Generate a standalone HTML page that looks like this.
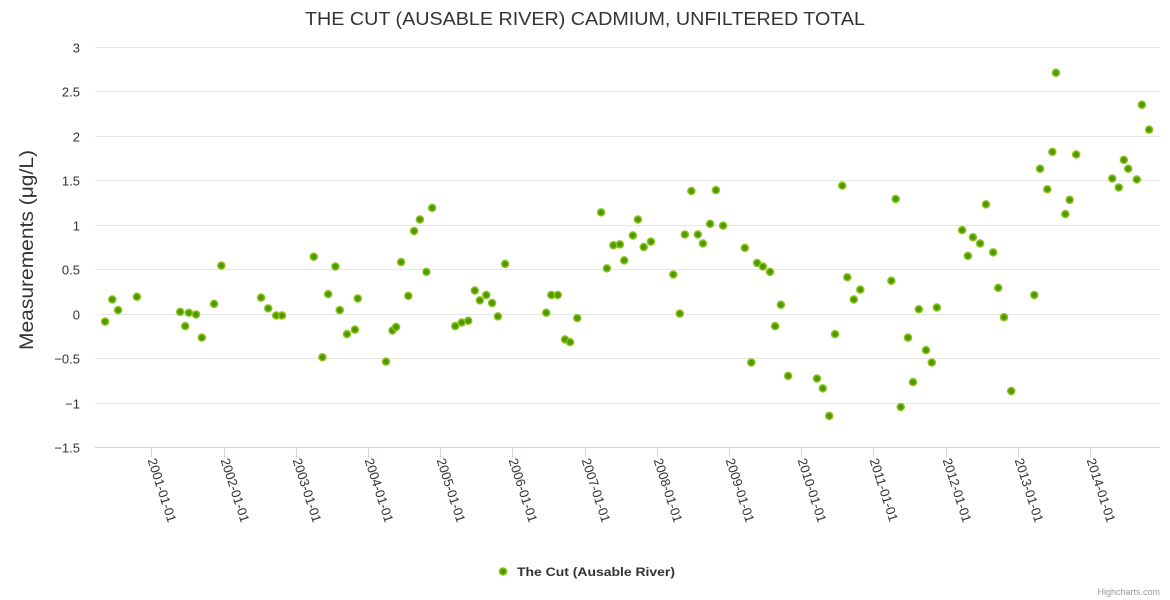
<!DOCTYPE html>
<html><head><meta charset="utf-8"><style>
body{margin:0;background:#fff;font-family:"Liberation Sans",sans-serif;}
svg{display:block}
</style></head><body>
<svg id="chart" width="1170" height="600" xmlns="http://www.w3.org/2000/svg">
<rect width="1170" height="600" fill="#fff"/>
<text x="585" y="25" text-anchor="middle" font-size="18" fill="#333" textLength="560" lengthAdjust="spacingAndGlyphs">THE CUT (AUSABLE RIVER) CADMIUM, UNFILTERED TOTAL</text>
<text transform="translate(33,250) rotate(-90)" text-anchor="middle" font-size="19" fill="#333" textLength="200" lengthAdjust="spacingAndGlyphs">Measurements (μg/L)</text>
<g id="grid"></g><g id="xaxis"></g><g id="points"></g>
<g>
<circle cx="503" cy="571.5" r="3.5" fill="#4d9900" stroke="#8cc21a" stroke-width="1.5"/>
<text x="517" y="576" font-size="12" font-weight="bold" fill="#333" textLength="158" lengthAdjust="spacingAndGlyphs">The Cut (Ausable River)</text>
</g>
<text x="1160" y="595" text-anchor="end" font-size="9" fill="#999">Highcharts.com</text>
</svg>
<script>
const yTicks=[-1.5,-1,-0.5,0,0.5,1,1.5,2,2.5,3];
const yTickLabels=["−1.5","−1","−0.5","0","0.5","1","1.5","2","2.5","3"];
const xTickYears=[2001,2002,2003,2004,2005,2006,2007,2008,2009,2010,2011,2012,2013,2014];
const xTickLabels=["2001-01-01","2002-01-01","2003-01-01","2004-01-01","2005-01-01","2006-01-01","2007-01-01","2008-01-01","2009-01-01","2010-01-01","2011-01-01","2012-01-01","2013-01-01","2014-01-01"];
const dates=[2000.36,2000.46,2000.54,2000.80,2001.40,2001.47,2001.52,2001.62,2001.70,2001.87,2001.97,2002.52,2002.62,2002.73,2002.81,2003.25,2003.37,2003.45,2003.55,2003.61,2003.71,2003.82,2003.86,2004.25,2004.34,2004.39,2004.46,2004.56,2004.64,2004.72,2004.81,2004.89,2005.21,2005.30,2005.39,2005.48,2005.55,2005.64,2005.72,2005.80,2005.90,2006.47,2006.54,2006.63,2006.73,2006.80,2006.90,2007.23,2007.31,2007.40,2007.49,2007.55,2007.67,2007.74,2007.82,2007.92,2008.23,2008.32,2008.39,2008.48,2008.57,2008.64,2008.74,2008.82,2008.92,2009.22,2009.31,2009.39,2009.47,2009.57,2009.64,2009.72,2009.82,2010.22,2010.30,2010.39,2010.47,2010.57,2010.64,2010.73,2010.82,2011.25,2011.31,2011.38,2011.48,2011.55,2011.63,2011.73,2011.81,2011.88,2012.23,2012.31,2012.38,2012.48,2012.56,2012.66,2012.73,2012.81,2012.91,2013.23,2013.31,2013.41,2013.48,2013.53,2013.66,2013.72,2013.81,2014.31,2014.40,2014.47,2014.53,2014.65,2014.72,2014.82];
const values=[-0.09,0.16,0.04,0.19,0.02,-0.14,0.01,-0.01,-0.27,0.11,0.54,0.18,0.06,-0.02,-0.02,0.64,-0.49,0.22,0.53,0.04,-0.23,-0.18,0.17,-0.54,-0.19,-0.15,0.58,0.20,0.93,1.06,0.47,1.19,-0.14,-0.10,-0.08,0.26,0.15,0.21,0.12,-0.03,0.56,0.01,0.21,0.21,-0.29,-0.32,-0.05,1.14,0.51,0.77,0.78,0.60,0.88,1.06,0.75,0.81,0.44,0.00,0.89,1.38,0.89,0.79,1.01,1.39,0.99,0.74,-0.55,0.57,0.53,0.47,-0.14,0.10,-0.70,-0.73,-0.84,-1.15,-0.23,1.44,0.41,0.16,0.27,0.37,1.29,-1.05,-0.27,-0.77,0.05,-0.41,-0.55,0.07,0.94,0.65,0.86,0.79,1.23,0.69,0.29,-0.04,-0.87,0.21,1.63,1.40,1.82,2.71,1.12,1.28,1.79,1.52,1.42,1.73,1.63,1.51,2.35,2.07];
const NS="http://www.w3.org/2000/svg";
const L=95,R=1160,T=47,B=447;
function yPos(v){return B-(v-(-1.5))/(3-(-1.5))*(B-T);}
function xPos(yr){return 151.3+(yr-2001)*72.2;}
function mk(tag,attrs,parent){const e=document.createElementNS(NS,tag);for(const k in attrs)e.setAttribute(k,attrs[k]);parent.appendChild(e);return e;}
const grid=document.getElementById('grid');
yTicks.forEach((v,i)=>{
  const y=Math.round(yPos(v))+0.5;
  if(i>0){const g=mk('line',{x1:L,x2:R,y1:y,y2:y,stroke:'#e6e6e6'},grid);
  
  }
  const t=mk('text',{x:80,y:y+5,'text-anchor':'end','font-size':'13',fill:'#333'},grid);
  
  
  t.textContent=yTickLabels[i];
});
const xa=document.getElementById('xaxis');
const axl=mk('line',{x1:L,x2:R,y1:447.5,y2:447.5,stroke:'#ccd6eb'},xa);


xTickYears.forEach((yr,i)=>{
  const x=Math.round(xPos(yr))+0.5;
  const tk=mk('line',{x1:x,x2:x,y1:447,y2:457,stroke:'#ccd6eb'},xa);
  
  
  const t=mk('text',{transform:'translate('+(x-4)+',460) rotate(72)','font-size':'13',fill:'#333'},xa);
  
  
  t.textContent=xTickLabels[i];
});
const pts=document.getElementById('points');
dates.forEach((d,i)=>{
  const c=mk('circle',{cx:xPos(d),cy:yPos(values[i]),r:3.5,fill:'#4d9900',stroke:'#8cc21a','stroke-width':1.5},pts);
  
  
});
</script>
</body></html>
